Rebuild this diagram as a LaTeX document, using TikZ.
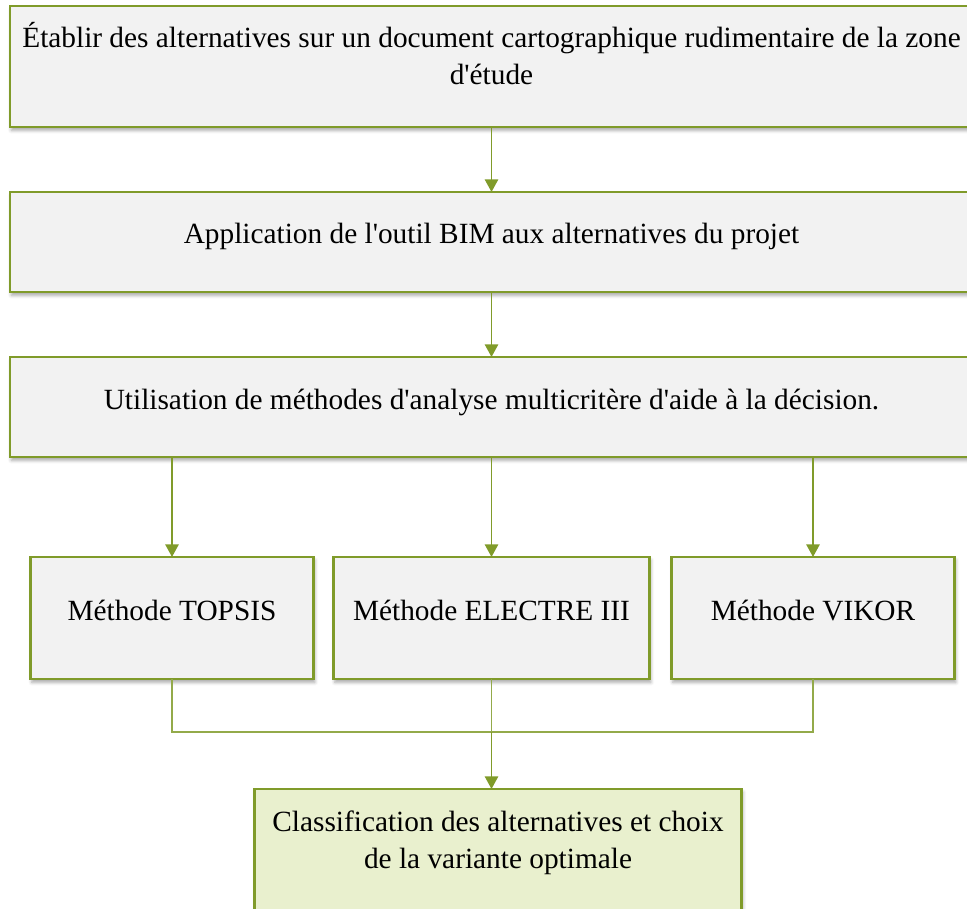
\documentclass[tikz,border=0pt]{standalone}
\usepackage{fontspec}
\newfontfamily\boxfont{Liberation Serif}
\usepackage{tikz}
\usetikzlibrary{arrows.meta,positioning,shadows.blur}

\definecolor{olivedge}{RGB}{128,155,42}
\definecolor{boxgrey}{RGB}{242,242,242}
\definecolor{resultgreen}{RGB}{233,240,206}

\begin{document}
\begin{tikzpicture}[
    flowbox/.style={draw=olivedge, line width=2.2pt, fill=boxgrey, align=center, inner sep=2pt, outer sep=0pt,
        font=\boxfont\fontsize{22pt}{27.75pt}\selectfont,
        blur shadow={shadow xshift=1pt, shadow yshift=-2.5pt, shadow blur radius=2.5pt, shadow opacity=35}},
    wide/.style={flowbox, minimum width=722.25pt},
    oneline/.style={text height=15pt, text depth=12pt},
    twolines/.style={text height=42.75pt, text depth=15pt},
    method/.style={flowbox, oneline, minimum height=91.5pt},
    link/.style={draw=olivedge, line width=1.35pt, -{Triangle[length=9.5pt, width=10pt]}},
    joinline/.style={draw=olivedge!85, line width=0.8pt}
]
\useasboundingbox (-7.5pt,4.5pt) rectangle (717.75pt,-677.25pt);
\clip (-7.5pt,4.5pt) rectangle (717.75pt,-677.25pt);

\node[wide, twolines, minimum height=90.75pt, anchor=north west] (goal) at (0,0) {Établir des alternatives sur un document cartographique rudimentaire de la zone\\d'étude};
\node[wide, oneline, minimum height=75pt, below=48.75pt of goal] (bim) {Application de l'outil BIM aux alternatives du projet};
\node[wide, oneline, minimum height=75pt, below=48.75pt of bim] (amcd) {Utilisation de méthodes d'analyse multicritère d'aide à la décision.};

\node[method, minimum width=237pt, below=75pt of amcd] (electre) {Méthode ELECTRE III};
\node[method, minimum width=212.25pt, left=15pt of electre] (topsis) {Méthode TOPSIS};
\node[method, minimum width=212.25pt, right=16.5pt of electre] (vikor) {Méthode VIKOR};

\node[flowbox, twolines, fill=resultgreen, minimum width=365.25pt, minimum height=90.75pt,
    below=82.5pt of electre, xshift=4.9pt] (choix) {Classification des alternatives et choix\\de la variante optimale};

\coordinate (merge) at ([yshift=-39.75pt]electre.south);

\draw[link] (goal.south) -- (bim.north);
\draw[link] (bim.south) -- (amcd.north);
\draw[link] (topsis.north |- amcd.south) -- (topsis.north);
\draw[link] (electre.north |- amcd.south) -- (electre.north);
\draw[link] (vikor.north |- amcd.south) -- (vikor.north);
\draw[joinline] (topsis.south) |- (merge) -| (vikor.south);
\draw[joinline] (electre.south) -- (merge);
\draw[link] (merge) -- (merge |- choix.north);
\end{tikzpicture}
\end{document}
